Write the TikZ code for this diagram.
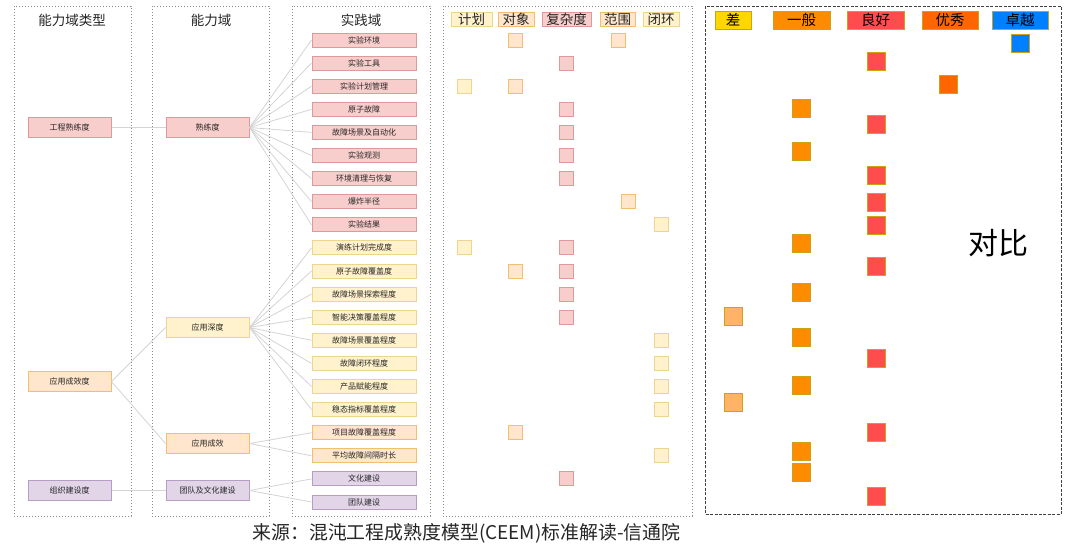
\documentclass[tikz,border=0pt]{standalone}
\usepackage{fontspec}
\setmainfont{Noto Sans CJK SC}
\newfontfamily\cjk{Noto Sans CJK SC}
\definecolor{redF}{HTML}{F8CECC}
\definecolor{redD}{HTML}{DE9A9A}
\definecolor{yelF}{HTML}{FFF2CC}
\definecolor{yelD}{HTML}{EDD58E}
\definecolor{oraF}{HTML}{FFE6CC}
\definecolor{oraD}{HTML}{F0C070}
\definecolor{purF}{HTML}{E1D5E7}
\definecolor{purD}{HTML}{B79CC6}
\definecolor{goldD}{HTML}{C9A416}
\definecolor{cCha}{HTML}{FFD700}
\definecolor{cChaSq}{HTML}{FFB366}
\definecolor{cYiban}{HTML}{FF8C00}
\definecolor{cLiang}{HTML}{FF4D4D}
\definecolor{cYou}{HTML}{FF6600}
\definecolor{cZhuo}{HTML}{007FFF}
\definecolor{connC}{HTML}{D4D4D4}
\definecolor{panelC}{HTML}{8A8A8A}
\begin{document}
\begin{tikzpicture}[x=1pt,y=-1pt,
  panel/.style={draw=panelC, dotted, line width=1pt},
  bigpanel/.style={draw=black!75, dash pattern=on 3pt off 1.5pt, line width=1pt},
  title/.style={font=\fontsize{13.5}{14}\selectfont, text=black!85},
  pbox/.style={rectangle, minimum width=104pt, minimum height=14pt, inner sep=0pt, line width=1pt, font=\fontsize{8}{8}\selectfont, text=black!85},
  cbox/.style={rectangle, minimum width=83pt, minimum height=20pt, inner sep=0pt, line width=1pt, font=\fontsize{8}{8}\selectfont, text=black!85},
  redbox/.style={fill=redF, draw=redD},
  yelbox/.style={fill=yelF, draw=yelD},
  orabox/.style={fill=oraF, draw=oraD},
  purbox/.style={fill=purF, draw=purD},
  sq/.style={rectangle, minimum size=14pt, inner sep=0pt, line width=1pt},
  bsq/.style={rectangle, minimum size=18pt, inner sep=0pt, line width=1pt, draw=goldD},
  hdr/.style={rectangle, minimum height=14pt, inner sep=0pt, line width=1pt, font=\fontsize{13.5}{14}\selectfont, text=black!85},
  lvl/.style={rectangle, minimum height=18pt, inner sep=0pt, line width=1pt, draw=goldD, font=\fontsize{14.5}{15}\selectfont, text=black},
  conn/.style={draw=connC, line width=0.8pt}
]
\useasboundingbox (0,0) rectangle (1080,547);
\fill[white] (0,0) rectangle (1080,547);

% panels
\draw[panel] (14,6) rectangle (131,516);
\draw[panel] (152,6) rectangle (269,516);
\draw[panel] (292,6) rectangle (430,516);
\draw[panel] (443,6) rectangle (692,516);
\draw[bigpanel] (705,6) rectangle (1061,514);

% titles
\node[title] (t1) at (72,20) {能力域类型};
\node[title] (t2) at (211,20) {能力域};
\node[title] (t3) at (361,20) {实践域};

% capability types
\node[cbox,redbox] (gc) at (69.5,127.5) {工程熟练度};
\node[cbox,orabox] (yx) at (69.5,381.5) {应用成效度};
\node[cbox,purbox] (zz) at (69.5,490.5) {组织建设度};

% capability domains
\node[cbox,redbox] (sl) at (207.5,127.5) {熟练度};
\node[cbox,yelbox] (sd) at (207.5,327.5) {应用深度};
\node[cbox,orabox] (cx) at (207.5,443.5) {应用成效};
\node[cbox,purbox] (td) at (207.5,490.5) {团队及文化建设};

% practice domains
\foreach \t [count=\i] in {实验环境,实验工具,实验计划管理,原子故障,故障场景及自动化,实验观测,环境清理与恢复,爆炸半径,实验结果}
  \node[pbox,redbox] (p\i) at (364,{40+(\i-1)*23.1}) {\t};
\foreach \t [count=\i from 10] in {演练计划完成度,原子故障覆盖度,故障场景探索程度,智能决策覆盖程度,故障场景覆盖程度,故障闭环程度,产品赋能程度,稳态指标覆盖程度}
  \node[pbox,yelbox] (p\i) at (364,{40+(\i-1)*23.1}) {\t};
\foreach \t [count=\i from 18] in {项目故障覆盖程度,平均故障间隔时长}
  \node[pbox,orabox] (p\i) at (364,{40+(\i-1)*23.1}) {\t};
\foreach \t [count=\i from 20] in {文化建设,团队建设}
  \node[pbox,purbox] (p\i) at (364,{40+(\i-1)*23.1}) {\t};

% connectors
\draw[conn] (gc.east) -- (sl.west);
\draw[conn] (yx.east) -- (sd.west);
\draw[conn] (yx.east) -- (cx.west);
\draw[conn] (zz.east) -- (td.west);
\foreach \i in {1,...,9} \draw[conn] (sl.east) -- (p\i.west);
\foreach \i in {10,...,17} \draw[conn] (sd.east) -- (p\i.west);
\foreach \i in {18,19} \draw[conn] (cx.east) -- (p\i.west);
\foreach \i in {20,21} \draw[conn] (td.east) -- (p\i.west);

% panel 4 headers
\node[hdr,fill=yelF,draw=yelD,minimum width=41pt] (h1) at (471.5,19) {计划};
\node[hdr,fill=oraF,draw=oraD,minimum width=36pt] (h2) at (516,19) {对象};
\node[hdr,fill=redF,draw=redD,minimum width=49pt] (h3) at (566.5,19) {复杂度};
\node[hdr,fill=oraF,draw=oraD,minimum width=35pt] (h4) at (617.5,19) {范围};
\node[hdr,fill=yelF,draw=yelD,minimum width=36pt] (h5) at (661,19) {闭环};

% panel 4 squares
\foreach \r/\x/\f/\d [count=\k] in {1/515.5/oraF/oraD, 1/618/oraF/oraD, 2/566.5/redF/redD, 3/464.5/yelF/yelD, 3/515.5/oraF/oraD, 4/566.5/redF/redD, 5/566.5/redF/redD, 6/566.5/redF/redD, 7/566.5/redF/redD, 8/628/oraF/oraD, 9/661/yelF/yelD, 10/464.5/yelF/yelD, 10/566.5/redF/redD, 11/515.5/oraF/oraD, 11/566.5/redF/redD, 12/566.5/redF/redD, 13/566.5/redF/redD, 14/661/yelF/yelD, 15/661/yelF/yelD, 16/661/yelF/yelD, 17/661/yelF/yelD, 18/515.5/oraF/oraD, 19/661/yelF/yelD, 20/566.5/redF/redD}
  \node[sq,fill=\f,draw=\d] (q\k) at (\x,{40+(\r-1)*23.1}) {};

% panel 5 headers
\node[lvl,fill=cCha,minimum width=36pt] (l1) at (733,20) {差};
\node[lvl,fill=cYiban,minimum width=57pt] (l2) at (801.5,20) {一般};
\node[lvl,fill=cLiang,minimum width=57pt] (l3) at (875.5,20) {良好};
\node[lvl,fill=cYou,minimum width=56pt] (l4) at (950,20) {优秀};
\node[lvl,fill=cZhuo,minimum width=56pt] (l5) at (1020,20) {卓越};

% panel 5 squares
\foreach \x/\y/\f [count=\k] in {1020/43.7/cZhuo, 876/61/cLiang, 948/84.5/cYou, 801.5/108/cYiban, 876/124.5/cLiang, 801.5/151/cYiban, 876/175/cLiang, 876/202/cLiang, 876/225/cLiang, 801.5/243.7/cYiban, 876/266/cLiang, 801.5/292/cYiban, 733/316/cChaSq, 801.5/337/cYiban, 876/358.7/cLiang, 801.5/385/cYiban, 733/402.7/cChaSq, 876/432/cLiang, 801.5/451.5/cYiban, 801.5/472.5/cYiban, 876/496/cLiang}
  \node[bsq,fill=\f] (b\k) at (\x,\y) {};

\node[font=\fontsize{30}{30}\selectfont, text=black] (db) at (998,243) {对比};

% caption
\node[font=\fontsize{18.9}{19}\selectfont, text=black!85] (cap) at (466.5,533) {来源：混沌工程成熟度模型(CEEM)标准解读-信通院};
\end{tikzpicture}
\end{document}
